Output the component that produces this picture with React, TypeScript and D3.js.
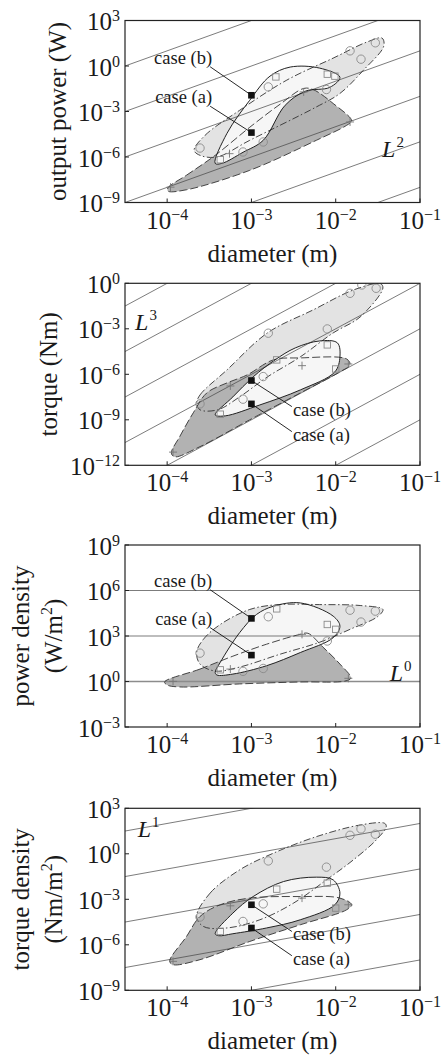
import React, { useRef, useEffect } from "react";
import * as d3 from "d3";

// every point is [log10 diameter (m), log10 value]
type Pt = [number, number];

const xTicks = [-4, -3, -2, -1];

// ---- output power (W) ----
const powerLight: Pt[] = [
  [-3.68, -5.56], [-3.55, -4.57], [-3.14, -2.92], [-2.58, -0.93], [-2.03, 0.52],
  [-1.63, 1.58], [-1.45, 1.84], [-1.43, 1.31], [-1.67, -0.27], [-1.95, -1.81],
  [-2.23, -2.7], [-3.02, -4.9], [-3.41, -6.0], [-3.61, -5.89],
];
const powerDark: Pt[] = [
  [-3.99, -8.03], [-3.77, -7.2], [-3.43, -5.89], [-3.02, -4.04], [-2.66, -2.52],
  [-2.38, -1.48], [-2.27, -1.55], [-2.03, -2.47], [-1.81, -3.62], [-1.87, -3.91],
  [-2.23, -4.9], [-3.02, -6.88], [-3.77, -8.16], [-3.99, -8.25],
];
const powerWhite: Pt[] = [
  [-3.43, -6.42], [-3.29, -4.44], [-3.02, -2.26], [-2.78, -0.67], [-2.54, -0.07],
  [-2.19, -0.14], [-1.95, -0.74], [-2.07, -1.41], [-2.36, -1.66], [-2.6, -2.59],
  [-2.86, -4.9], [-3.1, -5.69], [-3.35, -6.42],
];
const powerCircles: Pt[] = [
  [-3.61, -5.41], [-2.8, -1.38], [-3.1, -5.67], [-2.86, -5.01], [-2.11, -1.55],
  [-1.83, 1.0], [-1.7, 0.45], [-1.53, 1.53],
];
const powerSquares: Pt[] = [[-2.71, -0.72], [-2.1, -0.54], [-2.01, -0.67], [-3.37, -6.18]];
const powerPlus: Pt[] = [[-3.26, -5.78], [-2.38, -1.71], [-3.96, -7.99], [-1.83, -3.69]];
const powerCases: Pt[] = [[-3, -1.93], [-3, -4.39]]; // case (b), case (a)

// ---- torque (Nm) ----
const torqueLight: Pt[] = [
  [-3.65, -7.91], [-3.61, -7.36], [-3.29, -5.71], [-2.81, -3.27], [-2.27, -1.76],
  [-1.79, -0.44], [-1.47, -0.02], [-1.44, -0.31], [-1.71, -2.22], [-2.03, -3.27],
  [-2.42, -4.85], [-2.81, -6.17], [-3.14, -7.49], [-3.4, -8.34], [-3.61, -8.34],
];
const torqueDark: Pt[] = [
  [-3.95, -11.2], [-3.85, -10.1], [-3.69, -8.54], [-3.53, -7.23], [-3.29, -6.57],
  [-3.05, -6.04], [-2.74, -5.05], [-2.42, -4.92], [-1.87, -4.99], [-1.83, -5.38],
  [-1.95, -5.84], [-2.42, -7.23], [-3.02, -9.0], [-3.61, -10.77], [-3.91, -11.44],
];
const torqueWhite: Pt[] = [
  [-3.43, -8.68], [-3.22, -7.49], [-2.98, -6.17], [-2.72, -5.05], [-2.48, -4.26],
  [-2.19, -3.8], [-1.98, -3.93], [-1.95, -4.85], [-2.01, -5.84], [-2.42, -7.03],
  [-2.9, -8.02], [-3.31, -8.74],
];
const torqueCircles: Pt[] = [
  [-3.61, -7.95], [-2.8, -3.29], [-2.1, -3.01], [-1.83, -0.66], [-1.69, -0.11],
  [-1.52, -0.33], [-2.86, -6.15], [-3.1, -7.64],
];
const torqueSquares: Pt[] = [[-2.7, -5.05], [-2.1, -4.06], [-2.0, -5.65], [-3.37, -8.63]];
const torquePlus: Pt[] = [[-3.25, -6.77], [-2.4, -5.43], [-3.93, -11.13], [-1.85, -5.32]];
const torqueCases: Pt[] = [[-3, -6.41], [-3, -7.95]];

// ---- power density (W/m2) ----
const pdLight: Pt[] = [
  [-3.65, 1.93], [-3.57, 2.78], [-3.37, 3.76], [-3.02, 4.75], [-2.68, 5.07],
  [-2.19, 5.07], [-1.71, 5.01], [-1.44, 4.75], [-1.5, 4.29], [-1.83, 3.44],
  [-2.19, 2.59], [-2.66, 1.8], [-3.14, 0.95], [-3.43, 0.69], [-3.61, 1.15],
];
const pdDark: Pt[] = [
  [-4.03, -0.03], [-3.61, 0.82], [-3.22, 1.67], [-2.82, 2.46], [-2.42, 3.11],
  [-2.33, 3.18], [-2.15, 2.26], [-1.95, 1.15], [-1.82, 0.23], [-1.89, 0.03],
  [-2.42, -0.03], [-3.14, -0.16], [-3.85, -0.36], [-4.0, -0.23],
];
const pdWhite: Pt[] = [
  [-3.43, 0.6], [-3.37, 1.26], [-3.14, 3.22], [-2.94, 4.42], [-2.74, 4.96],
  [-2.42, 5.18], [-2.03, 4.31], [-1.95, 3.65], [-2.03, 2.89], [-2.42, 1.91],
  [-2.82, 1.04], [-3.22, 0.49], [-3.41, 0.43],
];
const pdCircles: Pt[] = [
  [-3.61, 1.87], [-2.8, 4.27], [-3.1, 0.67], [-2.86, 0.86], [-2.1, 2.67],
  [-1.83, 4.7], [-1.7, 3.92], [-1.53, 4.64],
];
const pdSquares: Pt[] = [[-2.7, 4.79], [-2.1, 3.76], [-2.0, 3.44], [-3.37, 0.77]];
const pdPlus: Pt[] = [[-3.25, 0.82], [-2.4, 3.11], [-3.93, 0.01], [-1.85, 0.21]];
const pdCases: Pt[] = [[-3, 4.16], [-3, 1.74]];

// ---- torque density (Nm/m2) ----
const tdLight: Pt[] = [
  [-3.65, -4.13], [-3.49, -2.59], [-3.14, -1.06], [-2.74, 0.04], [-2.23, 1.13],
  [-1.71, 1.9], [-1.42, 2.01], [-1.4, 1.79], [-1.52, 0.91], [-1.79, -0.4],
  [-2.11, -1.72], [-2.5, -3.25], [-2.9, -4.35], [-3.29, -4.89], [-3.57, -4.79],
];
const tdDark: Pt[] = [
  [-3.97, -7.09], [-3.77, -5.45], [-3.61, -4.13], [-3.37, -3.36], [-3.02, -2.92],
  [-2.42, -2.82], [-1.95, -2.92], [-1.81, -3.36], [-1.87, -3.69], [-2.42, -4.68],
  [-3.02, -5.78], [-3.61, -6.98], [-3.93, -7.31],
];
const tdWhite: Pt[] = [
  [-3.43, -5.27], [-3.22, -3.91], [-2.98, -2.82], [-2.62, -1.83], [-2.23, -1.54],
  [-2.03, -1.72], [-1.95, -2.59], [-2.01, -3.36], [-2.42, -4.35], [-2.82, -4.89],
  [-3.22, -5.27], [-3.39, -5.4],
];
const tdCircles: Pt[] = [
  [-3.61, -4.17], [-2.8, -0.47], [-3.1, -4.46], [-2.86, -3.3], [-2.11, -0.88],
  [-1.83, 1.22], [-1.7, 1.64], [-1.53, 1.29],
];
const tdSquares: Pt[] = [[-2.7, -2.33], [-2.1, -1.93], [-2.0, -3.58], [-3.37, -5.12]];
const tdPlus: Pt[] = [[-3.25, -3.43], [-2.4, -2.92], [-3.93, -7.09], [-1.85, -3.36]];
const tdCases: Pt[] = [[-3, -3.36], [-3, -4.89]];

const W = 441, H = 1059;
const LEFT = 125, RIGHT = 420, PH = 182;
const FONT = "Liberation Serif, Times New Roman, DejaVu Serif, serif";
const INK = "#1a1a1a";

const panels = [
  {
    top: 20.5, yDom: [-9, 3], yTicks: [3, 0, -3, -6, -9],
    title: [["output power (W)"]], titleX: [66],
    slope: 2, offsets: [9, 6, 3, 0, -3, -6], power: "2", powerAt: [-1.45, -6.02] as Pt,
    light: powerLight, dark: powerDark, white: powerWhite,
    circles: powerCircles, squares: powerSquares, plus: powerPlus, cases: powerCases,
    labelSide: "left", labelAt: [[-3.49, -0.05], [-3.49, -2.65]] as Pt[],
  },
  {
    top: 283.3, yDom: [-12, 0], yTicks: [0, -3, -6, -9, -12],
    title: [["torque (Nm)"]], titleX: [57],
    slope: 3, offsets: [12, 9, 6, 3, 0, -3, -6], power: "3", powerAt: [-4.38, -3.08] as Pt,
    light: torqueLight, dark: torqueDark, white: torqueWhite,
    circles: torqueCircles, squares: torqueSquares, plus: torquePlus, cases: torqueCases,
    labelSide: "right", labelAt: [[-2.52, -8.13], [-2.52, -9.78]] as Pt[],
  },
  {
    top: 545, yDom: [-3, 9], yTicks: [9, 6, 3, 0, -3],
    title: [["power density"], ["(W/m", "2", ")"]], titleX: [29, 62],
    slope: 0, offsets: [6, 3, 0], power: "0", powerAt: [-1.36, 0.03] as Pt,
    light: pdLight, dark: pdDark, white: pdWhite,
    circles: pdCircles, squares: pdSquares, plus: pdPlus, cases: pdCases,
    labelSide: "left", labelAt: [[-3.49, 6.05], [-3.49, 3.55]] as Pt[],
  },
  {
    top: 808.3, yDom: [-9, 3], yTicks: [3, 0, -3, -6, -9],
    title: [["torque density"], ["(Nm/m", "2", ")"]], titleX: [29, 62],
    slope: 1, offsets: [6, 3, 0, -3, -6], power: "1", powerAt: [-4.35, 1.11] as Pt,
    light: tdLight, dark: tdDark, white: tdWhite,
    circles: tdCircles, squares: tdSquares, plus: tdPlus, cases: tdCases,
    labelSide: "right", labelAt: [[-2.52, -5.12], [-2.52, -6.72]] as Pt[],
  },
];

const caseNames = ["case (b)", "case (a)"];

export default function App() {
  const svgRef = useRef<SVGSVGElement>(null);

  useEffect(() => {
    const svg = d3.select(svgRef.current);
    svg.selectAll("*").remove();
    const e = (v: number) => 10 ** v;
    const x = d3.scaleLog().domain([e(-4.5), e(-1)]).range([LEFT, RIGHT]);

    panels.forEach((p, i) => {
      const bottom = p.top + PH;
      const y = d3.scaleLog().domain([e(p.yDom[0]), e(p.yDom[1])]).range([bottom, p.top]);
      const px = (d: Pt) => x(e(d[0]));
      const py = (d: Pt) => y(e(d[1]));

      svg.append("clipPath").attr("id", `clip${i}`)
        .append("rect")
        .attr("x", LEFT).attr("y", p.top)
        .attr("width", RIGHT - LEFT).attr("height", PH);

      const g = svg.append("g").attr("clip-path", `url(#clip${i})`);
      const area = d3.line<Pt>().x(px).y(py).curve(d3.curveCatmullRomClosed.alpha(0.5));
      const seg = d3.line<Pt>().x(px).y(py);

      // region fills
      g.append("path").attr("d", area(p.light)).attr("fill", "#e3e3e3");
      g.append("path").attr("d", area(p.dark)).attr("fill", "#b2b2b2");
      g.append("path").attr("d", area(p.white)).attr("fill", "#f6f6f6");

      // scaling lines L^n
      p.offsets.forEach((c) => {
        const base = p.slope === 0 && c === 0;
        g.append("path")
          .attr("d", seg([[-4.5, c - 4.5 * p.slope], [-1, c - p.slope]]))
          .attr("fill", "none")
          .attr("stroke", base ? "#8c8c8c" : "#444")
          .attr("stroke-width", base ? 1.6 : 0.7);
      });

      // region outlines
      g.append("path").attr("d", area(p.light)).attr("fill", "none")
        .attr("stroke", "#333").attr("stroke-width", 0.9)
        .attr("stroke-dasharray", "7,2.5,1.5,2.5");
      g.append("path").attr("d", area(p.dark)).attr("fill", "none")
        .attr("stroke", "#333").attr("stroke-width", 0.9)
        .attr("stroke-dasharray", "8,3");
      g.append("path").attr("d", area(p.white)).attr("fill", "none")
        .attr("stroke", "#222").attr("stroke-width", 1);

      // markers
      g.selectAll(".c").data(p.circles).join("circle")
        .attr("cx", px).attr("cy", py).attr("r", 4.2)
        .attr("fill", "none").attr("stroke", "#8a8a8a").attr("stroke-width", 0.9);
      g.selectAll(".s").data(p.squares).join("rect")
        .attr("x", (d) => px(d) - 3.2).attr("y", (d) => py(d) - 3.2)
        .attr("width", 6.4).attr("height", 6.4)
        .attr("fill", "none").attr("stroke", "#8a8a8a").attr("stroke-width", 0.9);
      g.selectAll(".p").data(p.plus).join("path")
        .attr("d", (d) => `M${px(d) - 4},${py(d)}H${px(d) + 4}M${px(d)},${py(d) - 4}V${py(d) + 4}`)
        .attr("stroke", "#777").attr("stroke-width", 0.9);

      // case leaders and labels
      p.cases.forEach((c, k) => {
        const lp = p.labelAt[k];
        svg.append("line")
          .attr("x1", px(c)).attr("y1", py(c)).attr("x2", px(lp)).attr("y2", py(lp))
          .attr("stroke", "#111").attr("stroke-width", 0.9);
        const t = svg.append("text")
          .style("font-family", FONT).attr("font-size", 18.5).attr("fill", INK)
          .text(caseNames[k]);
        if (p.labelSide === "left") {
          t.attr("x", px(lp) + 2).attr("y", py(lp) - 3).attr("text-anchor", "end");
        } else {
          t.attr("x", px(lp) + 1).attr("y", py(lp) + 9).attr("text-anchor", "start");
        }
      });
      svg.selectAll(null).data(p.cases).join("rect")
        .attr("x", (d) => px(d) - 3.3).attr("y", (d) => py(d) - 3.3)
        .attr("width", 6.6).attr("height", 6.6).attr("fill", "#111");

      // L^n label
      const lt = svg.append("text")
        .attr("x", px(p.powerAt)).attr("y", py(p.powerAt))
        .style("font-family", FONT).attr("font-size", 24).attr("fill", INK);
      lt.append("tspan").attr("font-style", "italic").text("L");
      lt.append("tspan").attr("font-size", 15).attr("dy", -10).attr("dx", 1).text(p.power);

      // frame and inward ticks
      svg.append("rect")
        .attr("x", LEFT).attr("y", p.top).attr("width", RIGHT - LEFT).attr("height", PH)
        .attr("fill", "none").attr("stroke", "#222").attr("stroke-width", 1.2);
      xTicks.forEach((t) => {
        svg.append("line")
          .attr("x1", x(e(t))).attr("x2", x(e(t)))
          .attr("y1", bottom).attr("y2", bottom - 4)
          .attr("stroke", "#222").attr("stroke-width", 1);
        const tx = svg.append("text")
          .attr("x", x(e(t))).attr("y", bottom + 26)
          .attr("text-anchor", "middle")
          .style("font-family", FONT).attr("font-size", 25).attr("fill", INK);
        tx.append("tspan").text("10");
        tx.append("tspan").attr("font-size", 16).attr("dy", -9).text(String(t).replace("-", "\u2212"));
      });
      p.yTicks.forEach((t) => {
        const yy = y(e(t));
        svg.append("line")
          .attr("x1", LEFT).attr("x2", LEFT + 4).attr("y1", yy).attr("y2", yy)
          .attr("stroke", "#222").attr("stroke-width", 1);
        const ty = svg.append("text")
          .attr("x", 120).attr("y", yy + 9.5)
          .attr("text-anchor", "end")
          .style("font-family", FONT).attr("font-size", 25).attr("fill", INK);
        ty.append("tspan").text("10");
        ty.append("tspan").attr("font-size", 16).attr("dy", -9).text(String(t).replace("-", "\u2212"));
      });

      // axis titles
      svg.append("text")
        .attr("x", (LEFT + RIGHT) / 2).attr("y", bottom + 59)
        .attr("text-anchor", "middle")
        .style("font-family", FONT).attr("font-size", 25).attr("fill", INK)
        .text("diameter (m)");

      p.title.forEach((parts, k) => {
        const tt = svg.append("text")
          .attr("transform", `translate(${p.titleX[k]},${p.top + PH / 2}) rotate(-90)`)
          .attr("text-anchor", "middle")
          .style("font-family", FONT).attr("font-size", 25).attr("fill", INK);
        if (parts.length === 1) {
          tt.text(parts[0]);
        } else {
          tt.append("tspan").text(parts[0]);
          tt.append("tspan").attr("font-size", 16).attr("dy", -10).text(parts[1]);
          tt.append("tspan").attr("dy", 10).text(parts[2]);
        }
      });
    });
  }, []);

  return (
    <svg
      ref={svgRef}
      width={W}
      height={H}
      style={{ position: "absolute", left: 0, top: 0, background: "#fff" }}
    />
  );
}
